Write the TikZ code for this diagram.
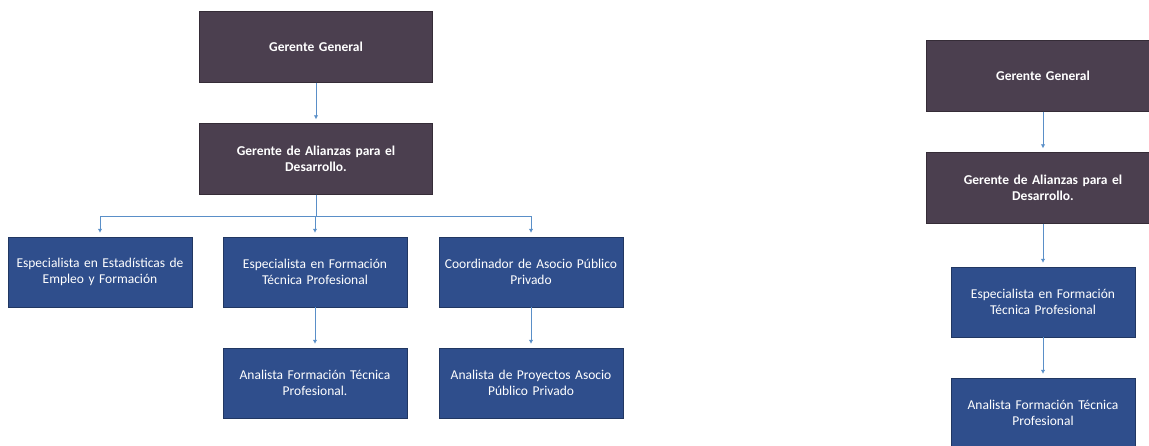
\documentclass[tikz,border=0pt]{standalone}
\usepackage{fontspec}
\setmainfont{Carlito}
\usepackage{tikz}
\usetikzlibrary{calc}
\usetikzlibrary{arrows.meta}

\definecolor{jefe}{HTML}{4B3F4F}
\definecolor{puesto}{HTML}{2F4E8C}
\definecolor{linea}{HTML}{5A8FC8}

\tikzset{
    jefebox/.style={draw=jefe!70!black, fill=jefe, text=white, font=\fontsize{13.5}{16}\selectfont\bfseries, align=center, minimum width=233pt, minimum height=71pt, text width=220pt, inner sep=0pt},
    puestobox/.style={draw=puesto!70!black, fill=puesto, text=white, font=\fontsize{13.5}{16}\selectfont, align=center, minimum width=184pt, minimum height=70pt, text width=182pt, inner sep=0pt},
    conector/.style={linea, line width=1pt, shorten >=4pt, -{Latex[length=4pt,width=4.5pt]}}
}

\begin{document}
\begin{tikzpicture}[x=1pt,y=-1pt]
    \useasboundingbox (0,0) rectangle (1149,446);
    \clip (0,0) rectangle (1149,446);
    % left chart
    \node (gg) [jefebox] at (316,47) {Gerente General};
    \node (ali) [jefebox] at (316,159) {Gerente de Alianzas para el\\Desarrollo.};
    \node (esp1) [puestobox] at (100,272) {Especialista en Estadísticas de\\Empleo y Formación};
    \node (esp2) [puestobox] at (315,272) {Especialista en Formación\\Técnica Profesional};
    \node (esp3) [puestobox] at (531,272) {Coordinador de Asocio Público\\Privado};
    \node (ana1) [puestobox] at (315,383) {Analista Formación Técnica\\Profesional.};
    \node (ana2) [puestobox] at (531,383) {Analista de Proyectos Asocio\\Público Privado};
    \draw[conector] (gg) -- (ali);
    \foreach \n in {esp1,esp2,esp3}
        \draw[conector] (ali.south) |- ($(\n.north)+(0,-20)$) -- (\n.north);
    \draw[conector] (esp2) -- (ana1);
    \draw[conector] (esp3) -- (ana2);
    % right chart
    \node (gg2) [jefebox] at (1043,76) {Gerente General};
    \node (ali2) [jefebox] at (1043,188) {Gerente de Alianzas para el\\Desarrollo.};
    \node (esp4) [puestobox] at (1043,302) {Especialista en Formación\\Técnica Profesional};
    \node (ana3) [puestobox] at (1043,413) {Analista Formación Técnica\\Profesional};
    \draw[conector] (gg2) -- (ali2);
    \draw[conector] (ali2) -- (esp4);
    \draw[conector] (esp4) -- (ana3);
\end{tikzpicture}
\end{document}
